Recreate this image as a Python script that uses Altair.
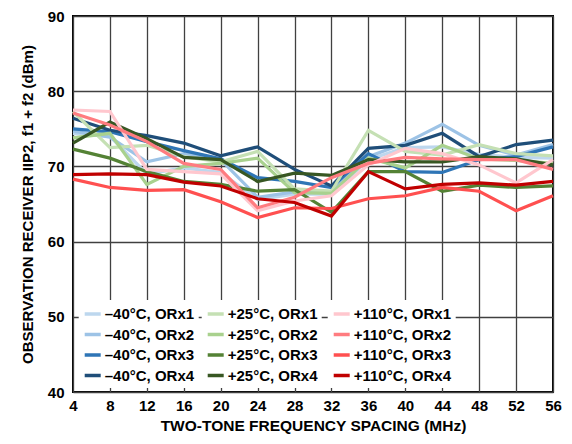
import altair as alt
import pandas as pd

freq = [4, 8, 12, 16, 20, 24, 28, 32, 36, 40, 44, 48, 52, 56]

m40_orx1 = [74.4, 74.0, 69.0, 69.8, 69.2, 65.6, 66.3, 66.3, 70.9, 72.5, 72.6, 71.6, 71.2, 71.1]
m40_orx2 = [74.7, 73.9, 70.6, 71.7, 70.9, 65.9, 66.6, 66.6, 71.3, 73.1, 75.6, 72.8, 71.5, 72.9]
m40_orx3 = [75.0, 74.6, 73.3, 72.1, 71.0, 68.5, 68.0, 67.2, 71.7, 69.3, 69.2, 70.9, 71.3, 72.6]
m40_orx4 = [76.4, 74.8, 74.1, 73.1, 71.4, 72.6, 69.6, 67.4, 72.4, 72.8, 74.4, 71.3, 72.9, 73.5]

p25_orx1 = [77.3, 72.5, 72.8, 71.3, 70.6, 72.0, 67.0, 66.7, 74.8, 72.0, 71.5, 72.9, 71.7, 71.4]
p25_orx2 = [73.8, 74.4, 67.6, 70.0, 70.4, 71.1, 66.5, 66.4, 71.1, 69.8, 72.8, 71.0, 70.8, 70.4]
p25_orx3 = [72.3, 71.1, 69.3, 68.0, 67.6, 66.7, 66.9, 63.9, 69.3, 69.3, 66.7, 67.5, 67.2, 67.4]
p25_orx4 = [73.1, 75.9, 73.7, 71.2, 70.9, 68.0, 69.1, 68.8, 70.9, 70.6, 70.6, 71.3, 71.0, 70.2]

p110_orx1 = [77.5, 77.3, 69.6, 69.3, 69.0, 64.1, 65.4, 66.1, 70.2, 72.4, 71.7, 70.2, 67.8, 70.9]
p110_orx2 = [77.1, 75.5, 73.3, 70.4, 69.6, 64.5, 65.9, 68.5, 70.4, 71.2, 71.0, 70.9, 70.9, 69.6]
p110_orx3 = [68.3, 67.2, 66.8, 66.9, 65.3, 63.2, 64.5, 64.4, 65.7, 66.1, 67.2, 66.7, 64.1, 66.1]
p110_orx4 = [68.9, 69.0, 68.9, 67.9, 67.4, 65.7, 65.2, 63.4, 69.3, 67.0, 67.6, 67.8, 67.5, 68.0]

temps = ["\u201340\u00b0C", "+25\u00b0C", "+110\u00b0C"]
orx = ["ORx1", "ORx2", "ORx3", "ORx4"]
values_by_temp = [
    [m40_orx1, m40_orx2, m40_orx3, m40_orx4],
    [p25_orx1, p25_orx2, p25_orx3, p25_orx4],
    [p110_orx1, p110_orx2, p110_orx3, p110_orx4],
]
colors_by_temp = [
    ["#bdd7ee", "#9dc3e6", "#2e75b6", "#1f4e79"],
    ["#c5e0b4", "#a9d18e", "#548235", "#385723"],
    ["#ffc7ce", "#ff7c80", "#ff5050", "#c00000"],
]

FONT = "Liberation Sans"
legend_x = [5.7, 128.7, 254.7]
label_pad = ["   ", "   ", ""]

x_enc = alt.X(
    "freq:Q",
    scale=alt.Scale(domain=[4, 56], nice=False, zero=False),
    axis=alt.Axis(
        values=freq,
        title="TWO-TONE FREQUENCY SPACING (MHz)",
        labelPadding=6,
        titlePadding=5,
        titleFontSize=15.5,
    ),
)
y_enc = alt.Y(
    "iip2:Q",
    scale=alt.Scale(domain=[40, 90], nice=False, zero=False),
    axis=alt.Axis(
        values=[40, 50, 60, 70, 80, 90],
        title="OBSERVATION RECEIVER IIP2, f1 + f2 (dBm)",
        labelPadding=9,
        titlePadding=12,
        titleFontSize=15,
    ),
)

layers = []
for ti, temp in enumerate(temps):
    rows = []
    names = []
    for oi, o in enumerate(orx):
        name = f"{temp}, {o}"
        names.append(name)
        for f, v in zip(freq, values_by_temp[ti][oi]):
            rows.append({"freq": f, "iip2": v, "series": name})
    df = pd.DataFrame(rows)
    layer = alt.Chart(df).mark_line(strokeWidth=3.2, strokeJoin="miter").encode(
        x=x_enc,
        y=y_enc,
        color=alt.Color(
            "series:N",
            scale=alt.Scale(domain=names, range=colors_by_temp[ti]),
            legend=alt.Legend(
                title=None,
                orient="none",
                legendX=legend_x[ti],
                legendY=284,
                direction="vertical",
                symbolType="stroke",
                symbolSize=256,
                symbolStrokeWidth=3.5,
                labelFont=FONT,
                labelFontSize=15,
                labelFontWeight="bold",
                labelColor="black",
                labelOffset=2,
                labelExpr=f"datum.label + '{label_pad[ti]}'",
                rowPadding=2.5,
                padding=4,
                fillColor="white",
            ),
        ),
        detail="series:N",
    )
    layers.append(layer)

chart = alt.layer(*layers).resolve_scale(
    color="independent"
).properties(
    width=480,
    height=376,
    autosize=alt.AutoSizeParams(type="none"),
    padding={"left": 65, "top": 8, "right": 11, "bottom": 44},
).configure_view(
    stroke="black", strokeWidth=2
).configure_axis(
    labelFont=FONT,
    labelFontSize=15,
    labelFontWeight="bold",
    labelColor="black",
    titleFont=FONT,
    titleFontWeight="bold",
    titleColor="black",
    ticks=False,
    domain=False,
    grid=True,
    gridColor="#404040",
    gridWidth=1.3,
    gridOpacity=1,
    labelFlush=False,
    labelOverlap=False,
)

chart.save("out.html", embed_options={"renderer": "svg", "actions": False})
